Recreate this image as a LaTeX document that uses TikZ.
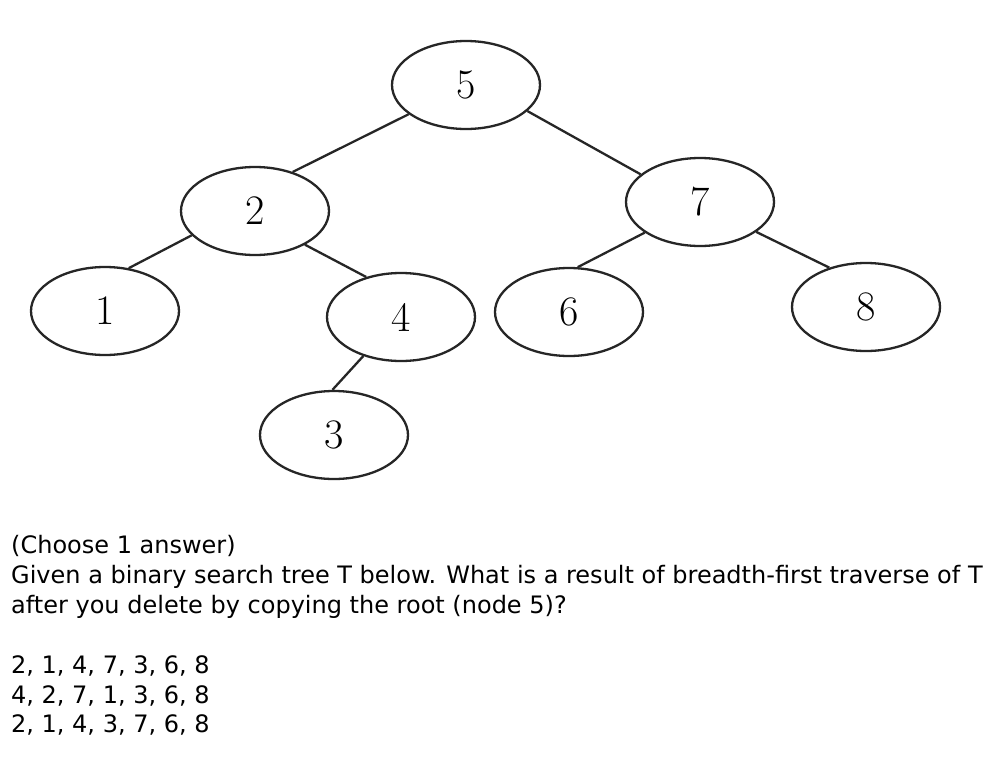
\documentclass[tikz,border=0pt]{standalone}
\usepackage{fontspec}
\newfontfamily\qfont{DejaVu Sans}
\tikzset{
  treenode/.style={draw=black!85, ellipse, line width=2.3pt, minimum width=148pt, minimum height=88pt, inner sep=0pt, font=\fontsize{42}{42}\selectfont},
  edge/.style={draw=black!85, line width=2.3pt},
  qline/.style={anchor=base west, inner sep=0pt, font=\qfont\fontsize{24}{28}\selectfont, text=black}
}
\usetikzlibrary{shapes.geometric}
\begin{document}
\begin{tikzpicture}[x=1pt,y=-1pt]
\useasboundingbox[fill=white] (0,0) rectangle (1000,763);
\node[treenode] (n5) at (466,85) {5};
\node[treenode] (n2) at (255,211) {2};
\node[treenode] (n7) at (700,202) {7};
\node[treenode] (n1) at (105,311) {1};
\node[treenode] (n4) at (401,317) {4};
\node[treenode] (n6) at (569,312) {6};
\node[treenode] (n8) at (866,307) {8};
\node[treenode] (n3) at (334,435) {3};
\draw[edge] (n5.207) -- (n2.46);
\draw[edge] (n5.-23) -- (n7.155);
\draw[edge] (n2.201) -- (n1.61);
\draw[edge] (n2.-34) -- (n4.131);
\draw[edge] (n4.226) -- (n3.92);
\draw[edge] (n7.209) -- (n6.79);
\draw[edge] (n7.-28) -- (n8.133);
\node[qline] (t1) at (11,553) {(Choose 1 answer)};
\node[qline] (t2) at (11,583) {Given a binary search tree T below. What is a result of breadth-first traverse of T};
\node[qline] (t3) at (11,613) {after you delete by copying the root (node 5)?};
\node[qline] (a1) at (11,673) {2, 1, 4, 7, 3, 6, 8};
\node[qline] (a2) at (11,703) {4, 2, 7, 1, 3, 6, 8};
\node[qline] (a3) at (11,732) {2, 1, 4, 3, 7, 6, 8};
\end{tikzpicture}
\end{document}
